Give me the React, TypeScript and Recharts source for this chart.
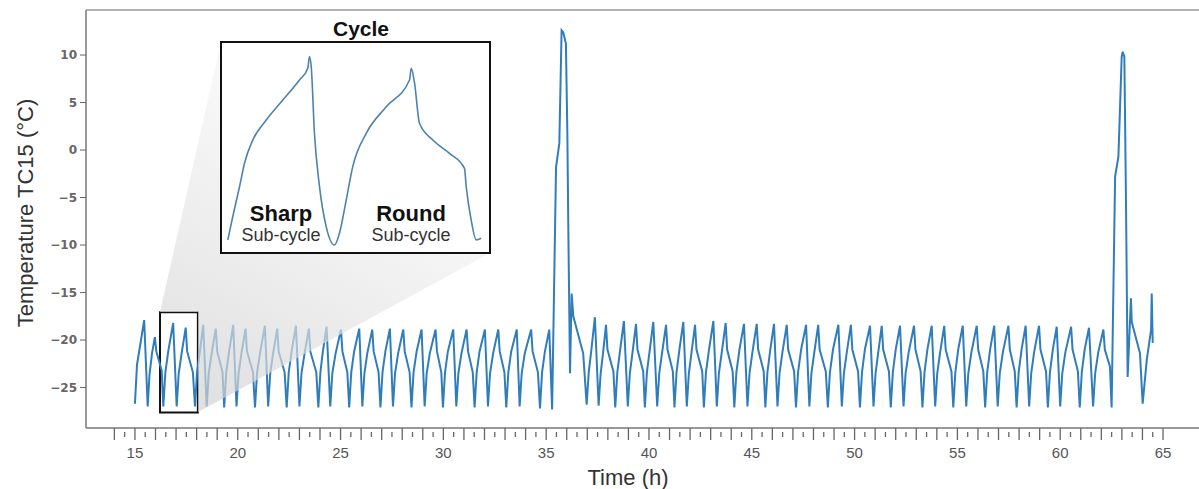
import React from 'react';
import { LineChart, Line, XAxis, YAxis, ReferenceArea } from 'recharts';

// [hour, temperature °C]
const cyclesBeforeFirstSpike: [number, number][] = [
  [15.0, -26.7], [15.1, -22.6], [15.25, -20.6], [15.45, -17.9], [15.62, -27.0],
  [15.71, -23.6], [15.83, -21.4], [15.97, -19.7], [16.04, -21.2], [16.3, -23.2], [16.38, -27.0],
  [16.48, -23.4], [16.62, -21.2], [16.86, -18.2], [17.03, -27.0],
  [17.13, -23.5], [17.27, -21.4], [17.47, -18.7], [17.54, -21.2], [17.82, -23.4], [17.92, -27.0],
  [18.02, -23.4], [18.16, -21.2], [18.32, -18.4], [18.49, -27.0],
  [18.59, -23.5], [18.73, -21.4], [18.93, -18.8], [19.0, -21.2], [19.26, -23.4], [19.34, -27.1],
  [19.44, -23.4], [19.58, -21.2], [19.78, -18.4], [19.94, -27.0],
  [20.04, -23.5], [20.18, -21.4], [20.38, -18.8], [20.45, -21.2], [20.74, -23.4], [20.84, -27.1],
  [20.94, -23.4], [21.1, -21.2], [21.32, -18.5], [21.48, -27.0],
  [21.58, -23.5], [21.72, -21.4], [21.92, -18.8], [21.99, -21.2], [22.28, -23.4], [22.38, -27.1],
  [22.48, -23.4], [22.62, -21.2], [22.83, -18.5], [23.0, -27.0],
  [23.1, -23.5], [23.25, -21.4], [23.46, -18.8], [23.53, -21.2], [23.82, -23.4], [23.92, -27.1],
  [24.02, -23.4], [24.14, -21.2], [24.32, -18.6], [24.5, -27.0],
  [24.6, -23.5], [24.76, -21.4], [25.02, -18.9], [25.09, -21.2], [25.33, -23.4], [25.42, -27.1],
  [25.52, -23.4], [25.66, -21.2], [25.91, -18.8], [26.06, -27.0],
  [26.16, -23.5], [26.3, -21.4], [26.54, -18.9], [26.61, -21.2], [26.85, -23.4], [26.94, -27.1],
  [27.04, -23.4], [27.18, -21.2], [27.4, -18.8], [27.55, -27.0],
  [27.65, -23.5], [27.8, -21.4], [28.05, -18.9], [28.12, -21.2], [28.36, -23.4], [28.45, -27.1],
  [28.55, -23.4], [28.7, -21.2], [28.94, -18.9], [29.09, -27.0],
  [29.19, -23.5], [29.34, -21.4], [29.62, -18.9], [29.69, -21.2], [29.9, -23.4], [29.98, -27.1],
  [30.08, -23.4], [30.22, -21.2], [30.48, -18.9], [30.63, -27.0],
  [30.73, -23.5], [30.88, -21.4], [31.13, -18.9], [31.2, -21.2], [31.43, -23.4], [31.52, -27.1],
  [31.62, -23.4], [31.76, -21.2], [32.02, -18.9], [32.17, -27.0],
  [32.27, -23.5], [32.42, -21.4], [32.67, -18.9], [32.74, -21.2], [32.97, -23.4], [33.06, -27.1],
  [33.16, -23.4], [33.3, -21.2], [33.57, -18.9], [33.71, -27.0],
  [33.81, -23.5], [33.96, -21.4], [34.27, -18.9], [34.34, -21.2], [34.6, -23.4], [34.7, -27.2],
  [34.8, -23.4], [34.94, -21.2], [35.15, -18.9], [35.29, -27.3],
];

const firstSpike: [number, number][] = [
  [35.48, -1.8], [35.64, 0.7], [35.75, 12.6], [35.83, 12.4], [35.96, 11.2], [36.03, 1.8],
  [36.08, -8.8], [36.16, -23.5], [36.24, -15.1], [36.32, -17.5], [36.8, -21.4], [36.97, -26.8],
];

const cyclesBetweenSpikes: [number, number][] = [
  [37.07, -23.4], [37.2, -21.0], [37.37, -17.6], [37.55, -26.9],
  [37.65, -23.5], [37.77, -21.3], [37.91, -18.4], [37.98, -21.0], [38.27, -23.3], [38.36, -27.1],
  [38.46, -23.4], [38.6, -21.0], [38.78, -18.0], [38.97, -27.0],
  [39.07, -23.5], [39.2, -21.3], [39.37, -18.3], [39.44, -21.0], [39.72, -23.3], [39.8, -27.1],
  [39.9, -23.4], [40.04, -21.0], [40.21, -18.1], [40.4, -27.0],
  [40.5, -23.5], [40.64, -21.3], [40.83, -18.4], [40.9, -21.0], [41.16, -23.3], [41.24, -27.1],
  [41.34, -23.4], [41.48, -21.0], [41.67, -18.1], [41.84, -27.0],
  [41.94, -23.5], [42.07, -21.3], [42.24, -18.4], [42.31, -21.0], [42.59, -23.3], [42.67, -27.1],
  [42.77, -23.4], [42.92, -21.0], [43.13, -18.0], [43.3, -27.0],
  [43.4, -23.5], [43.54, -21.3], [43.73, -18.2], [43.8, -21.0], [44.07, -23.3], [44.15, -27.1],
  [44.25, -23.4], [44.4, -21.0], [44.62, -18.3], [44.79, -27.0],
  [44.89, -23.5], [45.03, -21.3], [45.24, -18.3], [45.31, -21.0], [45.58, -23.3], [45.66, -27.1],
  [45.76, -23.4], [45.9, -21.0], [46.08, -18.3], [46.25, -27.0],
  [46.35, -23.5], [46.49, -21.3], [46.7, -18.4], [46.77, -21.0], [47.06, -23.3], [47.15, -27.1],
  [47.25, -23.4], [47.4, -21.0], [47.64, -18.4], [47.8, -27.0],
  [47.9, -23.5], [48.04, -21.3], [48.23, -18.4], [48.3, -21.0], [48.6, -23.3], [48.7, -27.1],
  [48.8, -23.4], [48.95, -21.0], [49.21, -18.4], [49.38, -27.0],
  [49.48, -23.5], [49.62, -21.3], [49.82, -18.4], [49.89, -21.0], [50.17, -23.3], [50.26, -27.1],
  [50.36, -23.4], [50.5, -21.0], [50.75, -18.5], [50.92, -27.0],
  [51.02, -23.5], [51.15, -21.3], [51.32, -18.5], [51.39, -21.0], [51.67, -23.3], [51.76, -27.1],
  [51.86, -23.4], [52.0, -21.0], [52.21, -18.5], [52.38, -27.0],
  [52.48, -23.5], [52.63, -21.3], [52.89, -18.5], [52.96, -21.0], [53.21, -23.3], [53.3, -27.1],
  [53.4, -23.4], [53.54, -21.0], [53.75, -18.5], [53.92, -27.0],
  [54.02, -23.5], [54.16, -21.3], [54.36, -18.5], [54.43, -21.0], [54.71, -23.3], [54.8, -27.1],
  [54.9, -23.4], [55.04, -21.0], [55.26, -18.5], [55.43, -27.0],
  [55.53, -23.5], [55.68, -21.3], [55.94, -18.5], [56.01, -21.0], [56.26, -23.3], [56.35, -27.1],
  [56.45, -23.4], [56.59, -21.0], [56.79, -18.5], [56.96, -27.0],
  [57.06, -23.5], [57.21, -21.3], [57.48, -18.5], [57.55, -21.0], [57.79, -23.3], [57.88, -27.1],
  [57.98, -23.4], [58.12, -21.0], [58.32, -18.5], [58.49, -27.0],
  [58.59, -23.5], [58.73, -21.3], [58.97, -18.5], [59.04, -21.0], [59.31, -23.3], [59.4, -27.1],
  [59.5, -23.4], [59.64, -21.0], [59.83, -18.6], [60.0, -27.0],
  [60.1, -23.5], [60.25, -21.3], [60.53, -18.6], [60.6, -21.0], [60.86, -23.3], [60.95, -27.1],
  [61.05, -23.4], [61.19, -21.0], [61.4, -18.7], [61.6, -27.0],
  [61.7, -23.5], [61.85, -21.3], [62.1, -18.9], [62.17, -21.0], [62.42, -22.8], [62.5, -27.1],
];

const secondSpike: [number, number][] = [
  [62.67, -2.8], [62.83, -0.7], [62.99, 9.8], [63.04, 10.35], [63.12, 9.8], [63.2, -5.6],
  [63.28, -23.9], [63.44, -15.6], [63.48, -18.1], [63.88, -21.4], [64.01, -26.7],
  [64.21, -22.1], [64.42, -18.9], [64.45, -15.1], [64.5, -20.3],
];

// one cycle (sharp + round sub-cycle) shown in the zoom box
const zoomedCycle: [number, number][] = [
  [16.26, -27.02], [16.294, -25.85], [16.341, -24.33], [16.375, -23.15], [16.432, -21.98],
  [16.525, -20.97], [16.639, -19.96], [16.754, -18.95], [16.811, -18.36], [16.823, -17.77],
  [16.835, -18.28], [16.857, -21.62], [16.892, -24.33], [16.938, -26.35], [16.995, -27.28],
  [17.03, -26.67], [17.076, -25.01], [17.121, -23.32], [17.214, -21.64], [17.352, -20.3],
  [17.512, -18.95], [17.524, -18.36], [17.547, -19.11], [17.581, -21.13], [17.673, -21.98],
  [17.788, -22.65], [17.891, -23.41], [17.903, -24.33], [17.937, -26.01], [17.972, -27.02],
  [18.006, -26.94],
];

const tempTicks = [-25, -20, -15, -10, -5, 0, 5, 10];
const hourLabels = [15, 20, 25, 30, 35, 40, 45, 50, 55, 60, 65];
const timeTicks = Array.from({ length: 103 }, (_, i) => 14 + i * 0.5);

const mainData = [...cyclesBeforeFirstSpike, ...firstSpike, ...cyclesBetweenSpikes, ...secondSpike].map(
  ([h, t]) => ({ h, t })
);
const zoomData = zoomedCycle.map(([h, t]) => ({ h, t }));

const SANS = '"Liberation Sans", Arial, sans-serif';

const TimeTick = (props: any) => {
  const { x, y, payload } = props;
  const v = payload.value as number;
  const whole = Math.abs(v - Math.round(v)) < 1e-6;
  const labelled = hourLabels.includes(v);
  return (
    <g>
      <line x1={x} x2={x} y1={whole ? y : y + 4} y2={whole ? y + 12 : y + 9} stroke="#666" strokeWidth={1.3} />
      {labelled && (
        <text x={x} y={y + 30} textAnchor="middle" fontSize={15} fill="#555" fontFamily={SANS}>
          {v}
        </text>
      )}
    </g>
  );
};

const fmtTemp = (v: number) => (v < 0 ? `\u2212${-v}` : `${v}`);

export default function App() {
  return (
    <div style={{ position: 'absolute', left: 0, top: 0, width: 1199, height: 489, background: '#fff' }}>
      <LineChart width={1199} height={489} data={mainData} margin={{ top: 10, right: 0, bottom: 0, left: 0 }}>
        <XAxis
          dataKey="h"
          type="number"
          domain={[12.62, 66.75]}
          ticks={timeTicks}
          interval={0}
          height={61}
          allowDataOverflow
          axisLine={{ stroke: '#777', strokeWidth: 1.5 }}
          tickLine={false}
          tickSize={0}
          tickMargin={0}
          tick={<TimeTick />}
        />
        <YAxis
          type="number"
          domain={[-29.26, 14.74]}
          ticks={tempTicks}
          width={86}
          allowDataOverflow
          axisLine={{ stroke: '#777', strokeWidth: 1.5 }}
          tickLine={{ stroke: '#666' }}
          tickSize={6}
          tickMargin={3}
          tickFormatter={fmtTemp}
          tick={{ fontSize: 12, fill: '#666', fontFamily: '"DejaVu Sans", sans-serif', fontWeight: 'bold' }}
        />
        <Line dataKey="t" type="linear" stroke="#2f7dbb" strokeWidth={2} dot={false} isAnimationActive={false} />
        <ReferenceArea x1={16.22} x2={18.06} y1={-27.63} y2={-17.08} fill="none" stroke="#111" strokeWidth={2} />
      </LineChart>

      {/* zoom wedge + frame + axis titles */}
      <svg width={1199} height={489} style={{ position: 'absolute', left: 0, top: 0 }}>
        <defs>
          <linearGradient id="wedge" gradientUnits="userSpaceOnUse" x1={200} y1={390} x2={330} y2={150}>
            <stop offset="0" stopColor="#d4d4d4" stopOpacity={0.7} />
            <stop offset="1" stopColor="#f3f3f3" stopOpacity={0.65} />
          </linearGradient>
        </defs>
        <polygon points="160,312 221,42 490,253 198,412 198,312" fill="url(#wedge)" />
        <line x1={86} y1={10} x2={1199} y2={10} stroke="#999" strokeWidth={1.5} />
        <text transform="translate(33,213) rotate(-90)" textAnchor="middle" fontSize={22} fill="#333" fontFamily={SANS}>
          Temperature TC15 (°C)
        </text>
        <text x={628} y={485} textAnchor="middle" fontSize={22} fill="#333" fontFamily={SANS}>
          Time (h)
        </text>
      </svg>

      {/* inset */}
      <div
        style={{
          position: 'absolute',
          left: 220,
          top: 41,
          width: 271,
          height: 213,
          boxSizing: 'border-box',
          border: '2px solid #111',
          background: '#fff',
        }}
      />
      <div style={{ position: 'absolute', left: 222, top: 43 }}>
        <LineChart width={267} height={209} data={zoomData} margin={{ top: 0, right: 0, bottom: 0, left: 0 }}>
          <XAxis dataKey="h" type="number" domain={[16.22, 18.06]} hide />
          <YAxis type="number" domain={[-27.63, -17.08]} hide />
          <Line dataKey="t" type="monotone" stroke="#4d82ad" strokeWidth={1.6} dot={false} isAnimationActive={false} />
        </LineChart>
      </div>
      <svg width={1199} height={489} style={{ position: 'absolute', left: 0, top: 0, pointerEvents: 'none' }}>
        <g fontFamily={SANS} textAnchor="middle">
          <text x={361} y={36} fontSize={21} fontWeight="bold" fill="#111">Cycle</text>
          <text x={281} y={221} fontSize={22} fontWeight="bold" fill="#111">Sharp</text>
          <text x={281} y={241} fontSize={18} fill="#333">Sub-cycle</text>
          <text x={411} y={221} fontSize={22} fontWeight="bold" fill="#111">Round</text>
          <text x={411} y={241} fontSize={18} fill="#333">Sub-cycle</text>
        </g>
      </svg>
    </div>
  );
}
